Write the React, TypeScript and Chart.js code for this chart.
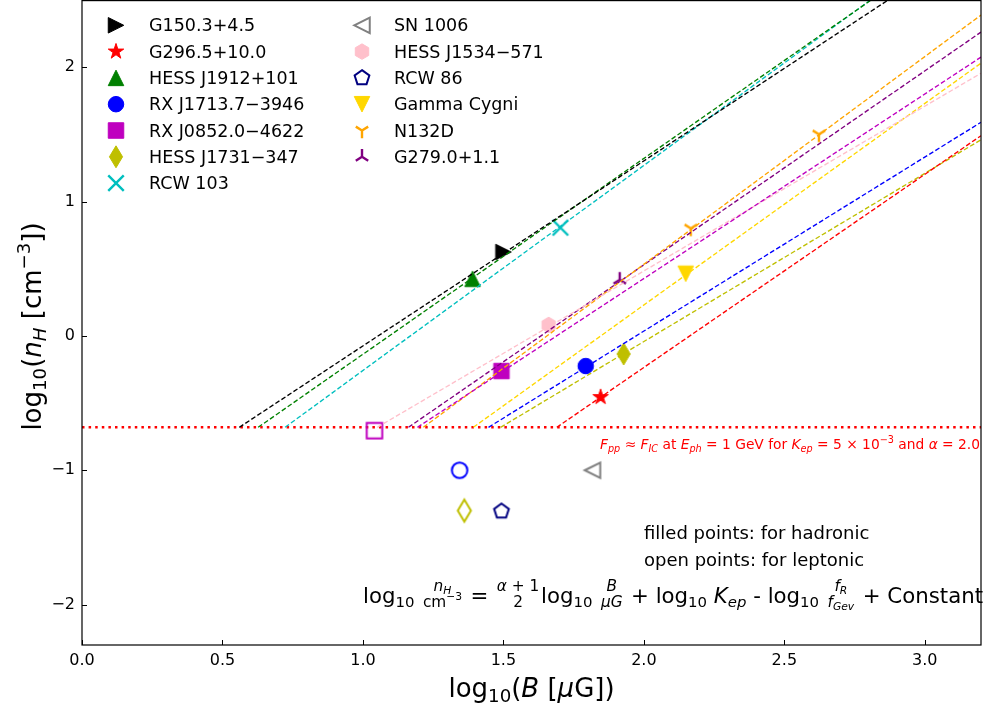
import React, { useEffect, useRef } from 'react';
import { Chart, registerables } from 'chart.js';
Chart.register(...registerables);

const FONT = '"DejaVu Sans", "Liberation Sans", sans-serif';

// ---------------- data ----------------
const sourceNames = ['G150.3+4.5', 'G296.5+10.0', 'HESS J1912+101', 'RX J1713.7\u22123946', 'RX J0852.0\u22124622', 'HESS J1731\u2212347', 'RCW 103', 'SN 1006', 'HESS J1534\u2212571', 'RCW 86', 'Gamma Cygni', 'N132D', 'G279.0+1.1'];
const markerKinds = ['triRight', 'star', 'triUp', 'circle', 'square', 'thinDiamond', 'x', 'triLeft', 'hexagon', 'pentagon', 'triDown', 'triDownLines', 'triUpLines'];
const markerColors = ['#000000', '#ff0000', '#008000', '#0000ff', '#bf00bf', '#bfbf00', '#00bfbf', '#808080', '#ffc0cb', '#000080', '#ffd700', '#ffa500', '#800080'];
const legendFilled = [true, true, true, true, true, true, true, false, true, false, true, true, true];

// filled points (hadronic)
const hadronicX = [[1.50], [1.846], [1.39], [1.793], [1.493], [1.928], [1.703], [], [1.661], [], [2.149], [2.167, 2.623], [1.914]];
const hadronicY = [[0.625], [-0.455], [0.425], [-0.224], [-0.261], [-0.134], [0.806], [], [0.082], [], [0.463], [0.80, 1.50], [0.418]];
// open points (leptonic)
const leptonicX = [[], [], [], [1.344], [1.041], [1.361], [], [1.817], [], [1.493], [], [], []];
const leptonicY = [[], [], [], [-1.0], [-0.705], [-1.3], [], [-1.0], [], [-1.305], [], [], []];

// dashed relation lines: start on threshold, end at x = lineEndX
const lineStartX = [0.56, 1.69, 0.627, 1.447, 1.194, 1.49, 0.723, null, 1.051, null, 1.393, 1.215, 1.162];
const lineEndY = [2.955, 1.49, 3.07, 1.59, 2.075, 1.46, 3.10, null, 1.955, null, 2.03, 2.388, 2.261];
const lineEndX = 3.2;
const thresholdY = -0.68;

const xMin = 0, xMax = 3.2, yMin = -2.3, yMax = 2.5;
const xTickValues = [0, 0.5, 1.0, 1.5, 2.0, 2.5, 3.0];
const yTickValues = [-2, -1, 0, 1, 2];

// ---------------- markers ----------------
const MS = 15.5;

function drawMarker(ctx: CanvasRenderingContext2D, kind: string, cx: number, cy: number, size: number, color: string, filled: boolean) {
  const r = size / 2;
  ctx.save();
  ctx.strokeStyle = color;
  ctx.fillStyle = color;
  ctx.lineJoin = 'miter';
  ctx.beginPath();
  const poly = (n: number, rad: number, inner?: number) => {
    const m = inner ? n * 2 : n;
    for (let k = 0; k < m; k++) {
      const ang = -Math.PI / 2 + (k * 2 * Math.PI) / m;
      const rr = inner && k % 2 === 1 ? rad * inner : rad;
      const px = cx + rr * Math.cos(ang), py = cy + rr * Math.sin(ang);
      if (k === 0) ctx.moveTo(px, py); else ctx.lineTo(px, py);
    }
    ctx.closePath();
  };
  let lineOnly = false;
  switch (kind) {
    case 'circle': ctx.arc(cx, cy, r, 0, Math.PI * 2); break;
    case 'square': ctx.rect(cx - r, cy - r, size, size); break;
    case 'triUp': ctx.moveTo(cx, cy - r); ctx.lineTo(cx - r, cy + r); ctx.lineTo(cx + r, cy + r); ctx.closePath(); break;
    case 'triDown': ctx.moveTo(cx, cy + r); ctx.lineTo(cx - r, cy - r); ctx.lineTo(cx + r, cy - r); ctx.closePath(); break;
    case 'triLeft': ctx.moveTo(cx - r, cy); ctx.lineTo(cx + r, cy - r); ctx.lineTo(cx + r, cy + r); ctx.closePath(); break;
    case 'triRight': ctx.moveTo(cx + r, cy); ctx.lineTo(cx - r, cy - r); ctx.lineTo(cx - r, cy + r); ctx.closePath(); break;
    case 'star': poly(5, r * 1.05, 0.381966); break;
    case 'hexagon': poly(6, r); break;
    case 'pentagon': poly(5, r); break;
    case 'thinDiamond': {
      const h = r * Math.SQRT2, w = r * Math.SQRT2 * 0.6;
      ctx.moveTo(cx, cy - h); ctx.lineTo(cx + w, cy); ctx.lineTo(cx, cy + h); ctx.lineTo(cx - w, cy); ctx.closePath();
      break;
    }
    case 'x':
      lineOnly = true;
      ctx.moveTo(cx - r, cy - r); ctx.lineTo(cx + r, cy + r);
      ctx.moveTo(cx - r, cy + r); ctx.lineTo(cx + r, cy - r);
      break;
    case 'triDownLines':
      lineOnly = true;
      ctx.moveTo(cx, cy); ctx.lineTo(cx, cy + r);
      ctx.moveTo(cx, cy); ctx.lineTo(cx + 0.8 * r, cy - 0.5 * r);
      ctx.moveTo(cx, cy); ctx.lineTo(cx - 0.8 * r, cy - 0.5 * r);
      break;
    case 'triUpLines':
      lineOnly = true;
      ctx.moveTo(cx, cy); ctx.lineTo(cx, cy - r);
      ctx.moveTo(cx, cy); ctx.lineTo(cx + 0.8 * r, cy + 0.5 * r);
      ctx.moveTo(cx, cy); ctx.lineTo(cx - 0.8 * r, cy + 0.5 * r);
      break;
  }
  if (lineOnly) {
    ctx.lineWidth = 2.4;
    ctx.stroke();
  } else if (filled) {
    ctx.fill();
    ctx.lineWidth = 1;
    ctx.stroke();
  } else {
    ctx.lineWidth = 2;
    ctx.stroke();
  }
  ctx.restore();
}

function markerCanvas(kind: string, color: string, filled: boolean): HTMLCanvasElement {
  const c = document.createElement('canvas');
  c.width = 30; c.height = 30;
  const ctx = c.getContext('2d')!;
  drawMarker(ctx, kind, 15, 15, MS, color, filled);
  return c;
}

// ---------------- rich text ----------------
type Seg = { s?: string; it?: boolean; sc?: number; dy?: number; num?: Seg[]; den?: Seg[] };
const T = (s: string, it = false): Seg => ({ s, it });
const SUB = (s: string, it = false): Seg => ({ s, it, sc: 0.7, dy: 0.2 });
const SUP = (s: string, it = false): Seg => ({ s, it, sc: 0.7, dy: -0.42 });
const FR = (num: Seg[], den: Seg[]): Seg => ({ num, den, sc: 0.72 });

const fontStr = (size: number, it?: boolean) => `${it ? 'italic ' : ''}${size}px ${FONT}`;

function measureSegs(ctx: CanvasRenderingContext2D, segs: Seg[], size: number): number {
  let w = 0;
  for (const g of segs) {
    const sz = size * (g.sc ?? 1);
    if (g.num) {
      w += Math.max(measureSegs(ctx, g.num, sz), measureSegs(ctx, g.den!, sz)) + 0.16 * size;
    } else {
      ctx.font = fontStr(sz, g.it);
      w += ctx.measureText(g.s!).width;
    }
  }
  return w;
}

function drawSegs(ctx: CanvasRenderingContext2D, segs: Seg[], x: number, y: number, size: number): number {
  for (const g of segs) {
    const sz = size * (g.sc ?? 1);
    if (g.num) {
      const wn = measureSegs(ctx, g.num, sz);
      const wd = measureSegs(ctx, g.den!, sz);
      const W = Math.max(wn, wd);
      const pad = 0.08 * size;
      drawSegs(ctx, g.num, x + pad + (W - wn) / 2, y - 0.58 * size, sz);
      drawSegs(ctx, g.den!, x + pad + (W - wd) / 2, y + 0.17 * size, sz);
      x += W + 2 * pad;
    } else {
      ctx.font = fontStr(sz, g.it);
      ctx.fillText(g.s!, x, y + (g.dy ?? 0) * size);
      x += ctx.measureText(g.s!).width;
    }
  }
  return x;
}

const xTitle: Seg[] = [T('log'), SUB('10'), T('('), T('B', true), T(' [', false), T('\u03bc', true), T('G'), T('])')];
const yTitle: Seg[] = [T('log'), SUB('10'), T('('), T('n', true), SUB('H', true), T(' [cm'), SUP('\u22123'), T('])')];
const noteSegs: Seg[] = [T('F', true), SUB('pp', true), T(' \u2248 '), T('F', true), SUB('IC', true), T(' at '), T('E', true), SUB('ph', true),
  T(' = 1 GeV for '), T('K', true), SUB('ep', true), T(' = 5 \u00d7 10'), SUP('\u22123'), T(' and '), T('\u03b1', true), T(' = 2.0')];
const formulaSegs: Seg[] = [T('log'), SUB('10'), T(' '), FR([T('n', true), SUB('H', true)], [T('cm'), SUP('\u22123')]), T(' = '),
  FR([T('\u03b1', true), T(' + 1')], [T('2')]), T('log'), SUB('10'), T(' '), FR([T('B', true)], [T('\u03bcG', true)]),
  T(' + log'), SUB('10'), T(' '), T('K', true), SUB('ep', true), T(' - log'), SUB('10'), T(' '),
  FR([T('f', true), SUB('R', true)], [T('f', true), SUB('Gev', true)]), T(' + Constant')];

const decorPlugin = {
  id: 'decor',
  afterDraw(chart: any) {
    const ctx: CanvasRenderingContext2D = chart.ctx;
    const a = chart.chartArea;
    const xs = chart.scales.x, ys = chart.scales.y;
    ctx.save();
    // frame
    ctx.strokeStyle = '#000';
    ctx.lineWidth = 1.2;
    ctx.strokeRect(a.left, a.top + 0.6, a.right - a.left, a.bottom - a.top - 0.6);
    // inward ticks
    ctx.lineWidth = 1;
    ctx.beginPath();
    for (const t of xs.ticks) {
      const px = Math.round(xs.getPixelForValue(t.value)) + 0.5;
      ctx.moveTo(px, a.bottom); ctx.lineTo(px, a.bottom - 5);
    }
    for (const t of ys.ticks) {
      const py = Math.round(ys.getPixelForValue(t.value)) + 0.5;
      ctx.moveTo(a.left, py); ctx.lineTo(a.left + 5, py);
    }
    ctx.stroke();

    ctx.fillStyle = '#000';
    ctx.textBaseline = 'alphabetic';
    ctx.textAlign = 'left';
    // x title
    const tsz = 26;
    const wx = measureSegs(ctx, xTitle, tsz);
    drawSegs(ctx, xTitle, (a.left + a.right) / 2 - wx / 2, 697, tsz);
    // y title
    const wy = measureSegs(ctx, yTitle, tsz);
    ctx.save();
    ctx.translate(41, (a.top + a.bottom) / 2 + 4);
    ctx.rotate(-Math.PI / 2);
    drawSegs(ctx, yTitle, -wy / 2, 0, tsz);
    ctx.restore();

    // legend
    for (let i = 0; i < sourceNames.length; i++) {
      const col = i < 7 ? 0 : 1;
      const row = i < 7 ? i : i - 7;
      const mx = col ? 362 : 116;
      const my = 25.3 + row * 26.3;
      drawMarker(ctx, markerKinds[i], mx, my, MS, markerColors[i], legendFilled[i]);
      ctx.fillStyle = '#000';
      ctx.font = fontStr(17.5);
      ctx.fillText(sourceNames[i], col ? 394 : 149, my + 6);
    }

    // threshold note
    ctx.fillStyle = '#ff0000';
    const nsz = 13.8;
    const wn = measureSegs(ctx, noteSegs, nsz);
    drawSegs(ctx, noteSegs, 980 - wn, 449, nsz);

    // notes
    ctx.fillStyle = '#000';
    ctx.font = fontStr(18);
    ctx.fillText('filled points: for hadronic', 644, 539);
    ctx.fillText('open points: for leptonic', 644, 566);

    // formula
    drawSegs(ctx, formulaSegs, 363, 603, 21.3);
    ctx.restore();
  },
};

export default function App() {
  const ref = useRef<HTMLCanvasElement | null>(null);
  useEffect(() => {
    if (!ref.current) return;
    const datasets: any[] = [];
    // markers
    for (let i = 0; i < sourceNames.length; i++) {
      if (hadronicX[i].length) {
        datasets.push({
          label: sourceNames[i] + ' (hadronic)',
          data: hadronicX[i].map((x, k) => ({ x, y: hadronicY[i][k] })),
          pointStyle: markerCanvas(markerKinds[i], markerColors[i], true),
          showLine: false,
          order: 1,
        });
      }
      if (leptonicX[i].length) {
        datasets.push({
          label: sourceNames[i] + ' (leptonic)',
          data: leptonicX[i].map((x, k) => ({ x, y: leptonicY[i][k] })),
          pointStyle: markerCanvas(markerKinds[i], markerColors[i], false),
          showLine: false,
          order: 1,
        });
      }
      if (lineStartX[i] !== null) {
        datasets.push({
          label: sourceNames[i] + ' line',
          data: [{ x: lineStartX[i], y: thresholdY }, { x: lineEndX, y: lineEndY[i] }],
          showLine: true,
          borderColor: markerColors[i],
          borderWidth: 1.35,
          borderDash: [4.8, 2.4],
          pointRadius: 0,
          order: 0,
        });
      }
    }
    datasets.push({
      label: 'threshold',
      data: [{ x: xMin, y: thresholdY }, { x: xMax, y: thresholdY }],
      showLine: true,
      borderColor: '#ff0000',
      borderWidth: 2.5,
      borderDash: [2.5, 4.1],
      pointRadius: 0,
      order: 2,
    });

    const chart = new Chart(ref.current, {
      type: 'scatter',
      data: { datasets },
      options: {
        animation: false,
        responsive: false,
        maintainAspectRatio: false,
        devicePixelRatio: 1,
        events: [],
        layout: { autoPadding: false, padding: { left: 0, right: 4, top: 0, bottom: 0 } },
        plugins: { legend: { display: false }, tooltip: { enabled: false } },
        scales: {
          x: {
            type: 'linear', min: xMin, max: xMax,
            grid: { display: false, drawTicks: false, tickLength: 0 },
            border: { display: false },
            afterBuildTicks: (s: any) => { s.ticks = xTickValues.map((v) => ({ value: v })); },
            afterFit: (s: any) => { s.height = 64; s.paddingLeft = 0; s.paddingRight = 0; },
            ticks: {
              padding: 6, color: '#000', font: { family: FONT, size: 16 },
              maxRotation: 0, autoSkip: false,
              callback: (v: any) => Number(v).toFixed(1),
            },
          },
          y: {
            type: 'linear', min: yMin, max: yMax,
            grid: { display: false, drawTicks: false, tickLength: 0 },
            border: { display: false },
            afterBuildTicks: (s: any) => { s.ticks = yTickValues.map((v) => ({ value: v })); },
            afterFit: (s: any) => { s.width = 82; s.paddingTop = 0; s.paddingBottom = 0; },
            ticks: {
              padding: 7, color: '#000', font: { family: FONT, size: 16 },
              autoSkip: false,
              callback: (v: any) => String(v).replace('-', '\u2212'),
            },
          },
        },
      },
      plugins: [decorPlugin],
    } as any);
    return () => chart.destroy();
  }, []);
  return (
    <div style={{ position: 'fixed', left: 0, top: 0, width: 985, height: 709, background: '#fff' }}>
      <canvas ref={ref} width={985} height={709} style={{ display: 'block', width: 985, height: 709 }} />
    </div>
  );
}
